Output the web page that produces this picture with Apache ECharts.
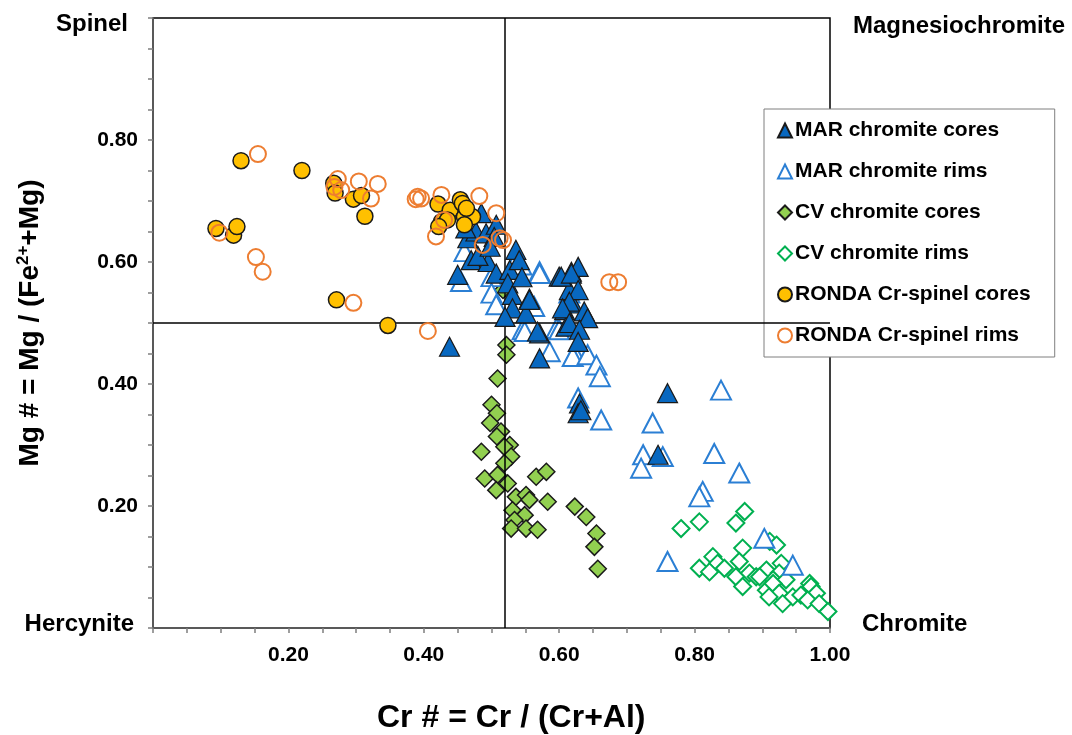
<!DOCTYPE html>
<html>
<head>
<meta charset="utf-8">
<script src="https://cdn.jsdelivr.net/npm/echarts@6/dist/echarts.min.js"></script>
<style>
  html, body { margin: 0; padding: 0; background: #fff; }
  #chartmain { width: 1072px; height: 735px; }
</style>
</head>
<body>
<div id="chartmain"></div>
<script>
// data: [Cr#, Mg#]
var marCores = [
  [0.485, 0.680], [0.465, 0.639], [0.477, 0.650], [0.492, 0.647], [0.507, 0.661],
  [0.504, 0.641], [0.470, 0.603], [0.495, 0.600], [0.450, 0.579], [0.507, 0.581],
  [0.527, 0.587], [0.524, 0.565], [0.536, 0.620], [0.541, 0.603], [0.531, 0.546],
  [0.556, 0.540], [0.531, 0.524], [0.551, 0.516], [0.571, 0.483], [0.438, 0.461],
  [0.571, 0.442], [0.600, 0.576], [0.618, 0.584], [0.615, 0.554], [0.620, 0.532],
  [0.608, 0.521], [0.610, 0.494], [0.603, 0.576], [0.628, 0.592], [0.618, 0.581],
  [0.628, 0.554], [0.615, 0.535], [0.605, 0.524], [0.637, 0.519], [0.642, 0.508],
  [0.615, 0.500], [0.630, 0.489], [0.628, 0.469], [0.568, 0.486], [0.556, 0.538],
  [0.630, 0.368], [0.628, 0.352], [0.632, 0.357], [0.760, 0.385], [0.746, 0.284],
  [0.520, 0.510], [0.545, 0.575], [0.480, 0.610], [0.462, 0.655], [0.498, 0.625]
];
var marRims = [
  [0.460, 0.617], [0.455, 0.568], [0.500, 0.576], [0.534, 0.598], [0.544, 0.595],
  [0.571, 0.584], [0.500, 0.549], [0.507, 0.530], [0.563, 0.527], [0.546, 0.489],
  [0.586, 0.453], [0.596, 0.491], [0.615, 0.549], [0.623, 0.450], [0.571, 0.581],
  [0.600, 0.489], [0.549, 0.486], [0.620, 0.445], [0.642, 0.448], [0.655, 0.431],
  [0.660, 0.412], [0.628, 0.377], [0.662, 0.341], [0.738, 0.336], [0.839, 0.390],
  [0.724, 0.284], [0.721, 0.262], [0.753, 0.281], [0.829, 0.286], [0.866, 0.254],
  [0.812, 0.224], [0.807, 0.215], [0.760, 0.109], [0.903, 0.147], [0.945, 0.103]
];
var cvCores = [
  [0.517, 0.554], [0.522, 0.464], [0.522, 0.448], [0.509, 0.409], [0.500, 0.366],
  [0.508, 0.352], [0.498, 0.336], [0.514, 0.322], [0.508, 0.314], [0.527, 0.300],
  [0.485, 0.289], [0.519, 0.297], [0.529, 0.281], [0.519, 0.270], [0.490, 0.245],
  [0.509, 0.251], [0.507, 0.226], [0.524, 0.237], [0.536, 0.215], [0.551, 0.218],
  [0.556, 0.210], [0.566, 0.248], [0.581, 0.256], [0.583, 0.207], [0.531, 0.193],
  [0.549, 0.185], [0.534, 0.177], [0.529, 0.163], [0.551, 0.163], [0.568, 0.161],
  [0.623, 0.199], [0.640, 0.182], [0.655, 0.155], [0.652, 0.133], [0.657, 0.097]
];
var cvRims = [
  [0.780, 0.163], [0.807, 0.174], [0.874, 0.191], [0.861, 0.172], [0.911, 0.142],
  [0.921, 0.136], [0.871, 0.131], [0.807, 0.098], [0.827, 0.117], [0.834, 0.106],
  [0.844, 0.098], [0.822, 0.092], [0.861, 0.084], [0.881, 0.090], [0.891, 0.084],
  [0.906, 0.095], [0.928, 0.106], [0.925, 0.090], [0.916, 0.079], [0.935, 0.079],
  [0.970, 0.073], [0.871, 0.068], [0.906, 0.062], [0.916, 0.073], [0.925, 0.057],
  [0.945, 0.051], [0.957, 0.054], [0.972, 0.068], [0.980, 0.057], [0.967, 0.046],
  [0.984, 0.040], [0.997, 0.027], [0.910, 0.051], [0.930, 0.040], [0.896, 0.084],
  [0.866, 0.109]
];
var rondaCores = [
  [0.130, 0.766], [0.220, 0.750], [0.267, 0.729], [0.269, 0.713], [0.296, 0.703],
  [0.308, 0.709], [0.313, 0.675], [0.093, 0.655], [0.119, 0.644], [0.124, 0.658],
  [0.271, 0.538], [0.347, 0.496], [0.421, 0.695], [0.439, 0.685], [0.454, 0.702],
  [0.457, 0.696], [0.460, 0.674], [0.472, 0.674], [0.426, 0.666], [0.435, 0.669],
  [0.422, 0.658], [0.460, 0.661], [0.463, 0.688]
];
var rondaRims = [
  [0.155, 0.777], [0.273, 0.736], [0.268, 0.723], [0.278, 0.718], [0.304, 0.732],
  [0.332, 0.728], [0.322, 0.704], [0.098, 0.648], [0.152, 0.608], [0.162, 0.584],
  [0.296, 0.533], [0.391, 0.707], [0.396, 0.704], [0.388, 0.703], [0.426, 0.710],
  [0.482, 0.708], [0.507, 0.680], [0.418, 0.642], [0.430, 0.669], [0.487, 0.628],
  [0.512, 0.639], [0.517, 0.636], [0.406, 0.487], [0.674, 0.567], [0.687, 0.567]
];
var seriesNames = ['MAR chromite cores', 'MAR chromite rims', 'CV chromite cores',
  'CV chromite rims', 'RONDA Cr-spinel cores', 'RONDA Cr-spinel rims'];
var xLabelVals = [0.2, 0.4, 0.6, 0.8, 1.0];
var yLabelVals = [0.2, 0.4, 0.6, 0.8];
var crDivide = 0.523;
var mgDivide = 0.502;

var chart = echarts.init(document.getElementById('chartmain'));
var FONT = '"Liberation Sans", Arial, sans-serif';

function tickFmt(list) {
    return function (v) {
        for (var i = 0; i < list.length; i++) {
            if (Math.abs(v - list[i]) < 1e-6) return list[i].toFixed(2);
        }
        return '';
    };
}

var axisCommon = {
    type: 'value',
    min: 0,
    max: 1,
    interval: 0.05,
    splitLine: { show: false },
    axisLine: { show: true, lineStyle: { color: '#595959', width: 2 } },
    axisTick: { show: true, inside: false, length: 5, lineStyle: { color: '#7f7f7f', width: 1.5 } }
};

option = {
    backgroundColor: '#fff',
    animation: false,
    grid: {
        left: 153, right: 242, top: 18, bottom: 107,
        show: true, borderColor: '#000', borderWidth: 1.5, backgroundColor: 'transparent'
    },
    xAxis: Object.assign({}, axisCommon, {
        axisLabel: {
            interval: 0, margin: 17, formatter: tickFmt(xLabelVals),
            color: '#000', fontWeight: 'bold', fontSize: 21, fontFamily: FONT
        }
    }),
    yAxis: Object.assign({}, axisCommon, {
        name: '{m|Mg # = Mg / (Fe}{s|2+}{m|+Mg)}',
        nameLocation: 'middle',
        nameGap: 108,
        nameTextStyle: {
            rich: {
                m: { fontSize: 28, fontWeight: 'bold', color: '#000', fontFamily: FONT },
                s: { fontSize: 17, fontWeight: 'bold', color: '#000', fontFamily: FONT, padding: [0, 0, 13, 0] }
            }
        },
        axisLabel: {
            interval: 0, margin: 15, formatter: tickFmt(yLabelVals),
            color: '#000', fontWeight: 'bold', fontSize: 21, fontFamily: FONT
        }
    }),
    legend: {
        orient: 'vertical',
        left: 764,
        top: 109,
        padding: [11, 24, 11, 13],
        itemGap: 20,
        itemWidth: 14,
        itemHeight: 14,
        backgroundColor: '#fff',
        borderColor: '#7f7f7f',
        borderWidth: 1,
        data: seriesNames,
        textStyle: { color: '#000', fontSize: 21, fontWeight: 'bold', fontFamily: FONT, padding: [0, 0, 0, -2] }
    },
    graphic: [
        { type: 'text', right: 1072 - 128, top: 12, style: { text: 'Spinel', font: 'bold 24px ' + FONT, fill: '#000' } },
        { type: 'text', left: 853, top: 14, style: { text: 'Magnesiochromite', font: 'bold 24px ' + FONT, fill: '#000' } },
        { type: 'text', right: 1072 - 134, top: 612, style: { text: 'Hercynite', font: 'bold 24px ' + FONT, fill: '#000' } },
        { type: 'text', left: 862, top: 612, style: { text: 'Chromite', font: 'bold 24px ' + FONT, fill: '#000' } },
        { type: 'text', left: 377, top: 702, style: { text: 'Cr # = Cr / (Cr+Al)', font: 'bold 32px ' + FONT, fill: '#000' } }
    ],
    series: [
        {
            name: 'divides', type: 'scatter', data: [], z: 1, silent: true,
            markLine: {
                silent: true, symbol: 'none', animation: false,
                label: { show: false },
                lineStyle: { color: '#000', width: 1.5, type: 'solid' },
                data: [{ xAxis: crDivide }, { yAxis: mgDivide }]
            }
        },
        {
            name: seriesNames[3], type: 'scatter', data: cvRims, z: 2,
            symbol: 'diamond', symbolSize: 17,
            itemStyle: { color: '#fff', borderColor: '#00b050', borderWidth: 2, opacity: 1 }
        },
        {
            name: seriesNames[2], type: 'scatter', data: cvCores, z: 3,
            symbol: 'diamond', symbolSize: 17,
            itemStyle: { color: '#92d050', borderColor: '#1a1a1a', borderWidth: 1.5, opacity: 1 }
        },
        {
            name: seriesNames[1], type: 'scatter', data: marRims, z: 4,
            symbol: 'triangle', symbolSize: [20, 19],
            itemStyle: { color: '#fff', borderColor: '#2b7fd4', borderWidth: 2, opacity: 1 }
        },
        {
            name: seriesNames[0], type: 'scatter', data: marCores, z: 5,
            symbol: 'triangle', symbolSize: [20, 19],
            itemStyle: { color: '#0868c0', borderColor: '#1a1a1a', borderWidth: 1.2, opacity: 1 }
        },
        {
            name: seriesNames[4], type: 'scatter', data: rondaCores, z: 6,
            symbol: 'circle', symbolSize: 16,
            itemStyle: { color: '#ffc000', borderColor: '#1a1a1a', borderWidth: 1.5, opacity: 1 }
        },
        {
            name: seriesNames[5], type: 'scatter', data: rondaRims, z: 7,
            symbol: 'circle', symbolSize: 16,
            itemStyle: { color: 'rgba(255,255,255,0)', borderColor: '#ed7d31', borderWidth: 2, opacity: 1 }
        }
    ]
};
chart.setOption(option);
</script>
</body>
</html>
